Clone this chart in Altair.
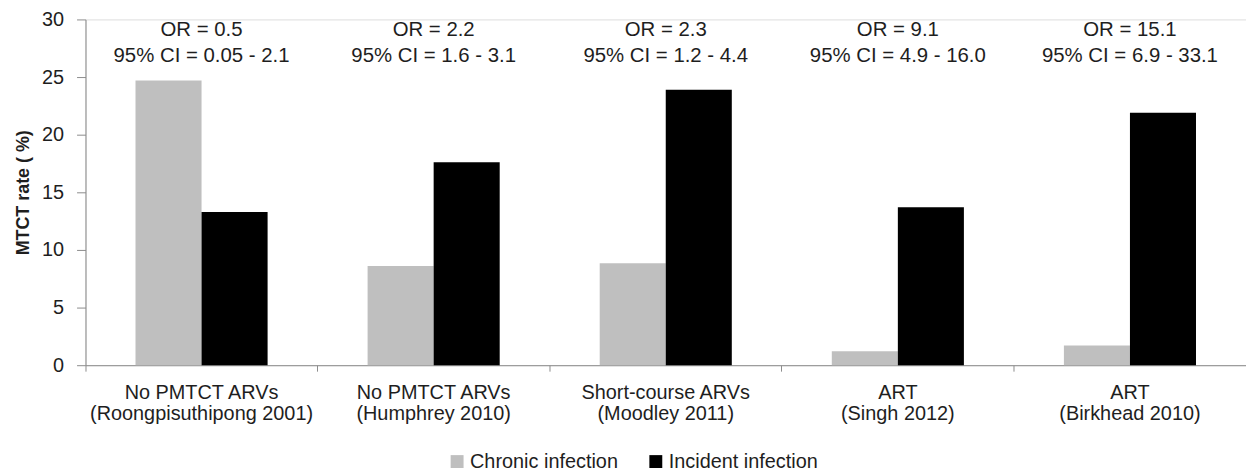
import altair as alt
import pandas as pd

categories = [
    "No PMTCT ARVs|(Roongpisuthipong 2001)",
    "No PMTCT ARVs|(Humphrey 2010)",
    "Short-course ARVs|(Moodley 2011)",
    "ART|(Singh 2012)",
    "ART|(Birkhead 2010)",
]
series = ["Chronic infection", "Incident infection"]
chronic = [24.7, 8.6, 8.85, 1.2, 1.7]
incident = [13.3, 17.6, 23.9, 13.7, 21.9]
or_labels = ["OR = 0.5", "OR = 2.2", "OR = 2.3", "OR = 9.1", "OR = 15.1"]
ci_labels = [
    "95% CI = 0.05 - 2.1",
    "95% CI = 1.6 - 3.1",
    "95% CI = 1.2 - 4.4",
    "95% CI = 4.9 - 16.0",
    "95% CI = 6.9 - 33.1",
]

rows = []
for c, a, b in zip(categories, chronic, incident):
    rows.append({"category": c, "series": series[0], "value": a})
    rows.append({"category": c, "series": series[1], "value": b})
bars_df = pd.DataFrame(rows)
ann_df = pd.DataFrame({"category": categories, "or": or_labels, "ci": ci_labels})

FONT = "Liberation Sans, Arial, sans-serif"
AXIS_GRAY = "#8c8c8c"
TEXT = "#1e1e1e"
W = 1168
H = 348

x_enc = alt.X(
    "category:N",
    sort=categories,
    scale=alt.Scale(paddingInner=0, paddingOuter=0),
    axis=alt.Axis(
        title=None,
        labelExpr="split(datum.value, '|')",
        bandPosition=0,
        labelAngle=0,
        labelFontSize=20,
        labelLineHeight=21,
        labelPadding=12,
        labelColor=TEXT,
        labelOverlap=False,
        labelFlush=False,
        labelBound=False,
        labelLimit=0,
        tickSize=6,
        tickColor=AXIS_GRAY,
        domainColor=AXIS_GRAY,
        labelFont=FONT,
    ),
)

bars = alt.Chart(bars_df).mark_bar().encode(
    x=x_enc,
    xOffset=alt.XOffset(
        "series:N", sort=series, scale=alt.Scale(paddingOuter=0.757, paddingInner=0)
    ),
    y=alt.Y(
        "value:Q",
        scale=alt.Scale(domain=[0, 30]),
        axis=alt.Axis(
            title="MTCT rate ( %)",
            values=[0, 5, 10, 15, 20, 25, 30],
            grid=False,
            tickSize=9,
            labelPadding=13,
            labelFontSize=20,
            labelColor=TEXT,
            labelFont=FONT,
            titleFont=FONT,
            titleFontSize=18,
            titleFontWeight="bold",
            titleColor=TEXT,
            titlePadding=9,
            tickColor=AXIS_GRAY,
            domainColor=AXIS_GRAY,
        ),
    ),
    color=alt.Color(
        "series:N",
        sort=series,
        scale=alt.Scale(domain=series, range=["#bfbfbf", "#000000"]),
        legend=alt.Legend(
            title=None,
            orient="none",
            legendX=364,
            legendY=435,
            direction="horizontal",
            symbolType="square",
            symbolSize=169,
            symbolStrokeWidth=0,
            labelFontSize=20,
            labelFont=FONT,
            labelColor=TEXT,
            labelOffset=3,
            columnPadding=28,
            padding=0,
        ),
    ),
)

t1 = alt.Chart(ann_df).mark_text(
    fontSize=20.5, font=FONT, color=TEXT, baseline="alphabetic"
).encode(
    x=alt.X("category:N", sort=categories),
    y=alt.value(17),
    text="or:N",
)
t2 = alt.Chart(ann_df).mark_text(
    fontSize=20.5, font=FONT, color=TEXT, baseline="alphabetic"
).encode(
    x=alt.X("category:N", sort=categories),
    y=alt.value(42.7),
    text="ci:N",
)

chart = (
    alt.layer(bars, t1, t2)
    .properties(
        width=W,
        height=H,
        autosize=alt.AutoSizeParams(type="none"),
        padding={"left": 78, "top": 10, "right": 0, "bottom": 107},
    )
    .configure_view(stroke=None)
    .configure(background="white")
)

chart.save("out.html", embed_options={"renderer": "svg", "actions": False})
